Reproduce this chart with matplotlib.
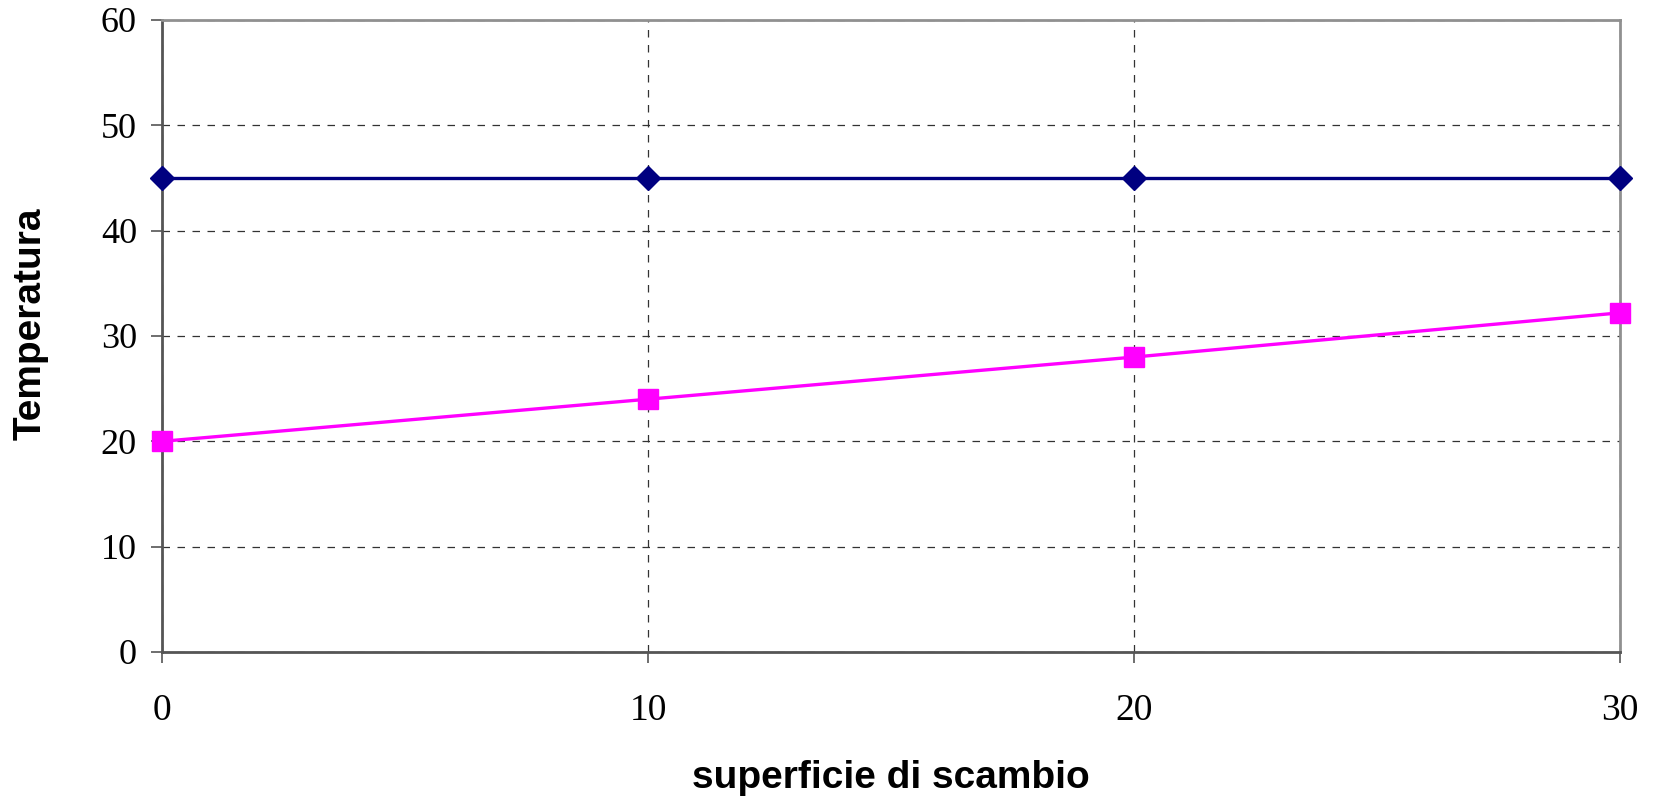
import matplotlib.pyplot as plt

# data
superficie = [0, 10, 20, 30]
t_calda = [45, 45, 45, 45]
t_fredda = [20, 24, 28, 32.2]

x_ticks = [0, 10, 20, 30]
y_ticks = [0, 10, 20, 30, 40, 50, 60]

W, H, DPI = 1659, 801, 100

fig = plt.figure(figsize=(W / DPI, H / DPI), dpi=DPI)
ax = fig.add_axes([162 / W, 1 - 652 / H, (1620 - 162) / W, (652 - 20) / H])

ax.plot(superficie, t_calda, color="#000080", lw=2.4, marker="D", ms=12,
        clip_on=False, zorder=3)
ax.plot(superficie, t_fredda, color="#FF00FF", lw=2.4, marker="s", ms=14.5,
        clip_on=False, zorder=3)

ax.set_xlim(0, 30)
ax.set_ylim(0, 60)
ax.set_xticks(x_ticks)
ax.set_yticks(y_ticks)

ax.grid(True, color="#333333", lw=0.9, ls=(0, (6, 6)))
ax.set_axisbelow(True)

for side in ["left", "bottom"]:
    ax.spines[side].set_color("#555555")
    ax.spines[side].set_linewidth(2)
for side in ["top", "right"]:
    ax.spines[side].set_color("#909090")
    ax.spines[side].set_linewidth(2)

ax.tick_params(axis="y", length=8, width=1.2, color="#555555", pad=10,
               labelsize=26)
ax.tick_params(axis="x", length=8, width=1.2, color="#555555", pad=22,
               labelsize=27)
for lab in ax.get_xticklabels() + ax.get_yticklabels():
    lab.set_family("Liberation Serif")

# axis titles placed in figure pixels, as in the reference
fig.text(891 / W, 1 - 778 / H, "superficie di scambio", family="Liberation Sans",
         fontweight="bold", fontsize=28, ha="center", va="center")
fig.text(31 / W, 1 - 324 / H, "Temperatura", family="Liberation Sans",
         fontweight="bold", fontsize=28, ha="center", va="center", rotation=90)

fig.savefig("out.png", dpi=DPI)
